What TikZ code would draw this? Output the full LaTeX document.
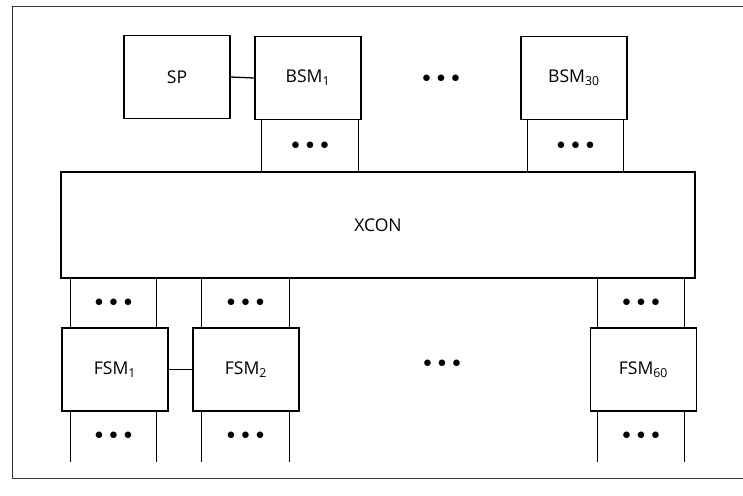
\documentclass[tikz,border=0pt]{standalone}
\usepackage{fontspec}
\setmainfont{Open Sans}
\usetikzlibrary{positioning}
\tikzset{
  unit/.style={draw, line width=0.9pt, minimum width=106\pxu, minimum height=83\pxu, inner sep=0pt, font=\fontsize{12.5}{14}\selectfont},
  chan/.style={minimum width=#1, minimum height=51\pxu, inner sep=0pt, font=\fontsize{12.5}{14}\selectfont},
  dotsn/.style={inner sep=0pt, font=\fontsize{12.5}{14}\selectfont},
  wire/.style={line width=0.9pt},
  frame/.style={line width=0.6pt, draw=black!80},
}
\newlength{\pxu}
\setlength{\pxu}{0.025cm}
\newcommand{\dotrow}{$\bullet\mkern2.5mu\bullet\mkern2.5mu\bullet$}
\begin{document}
\begin{tikzpicture}[x=0.025cm, y=-0.025cm]
  \useasboundingbox (0,0) rectangle (743,495);
  \draw[frame] (760,6) -- (12,6) -- (12,478) -- (760,478);
  % back side
  \node[unit] (sp) at (177,77) {SP};
  \node[unit] (bsma) at (308,78) {BSM\textsubscript{1}};
  \node[unit] (bsmz) at (574,78) {BSM\textsubscript{30}};
  \node[dotsn] (bdots) at (441,79) {\dotrow};
  \node[chan=96\pxu] (cba) at (310,145.5) {\dotrow};
  \node[chan=95\pxu] (cbz) at (575.5,145.5) {\dotrow};
  % switch
  \node[draw, line width=0.9pt, minimum width=634\pxu, minimum height=106\pxu, font=\fontsize{12.5}{14}\selectfont] (xcon) at (378,225) {XCON};
  % front side
  \node[unit] (fsma) at (115,369.5) {FSM\textsubscript{1}};
  \node[unit] (fsmb) at (246,369.5) {FSM\textsubscript{2}};
  \node[unit] (fsmz) at (643.5,369.5) {FSM\textsubscript{60}};
  \node[dotsn] (fdots) at (442,364) {\dotrow};
  \node[chan=85\pxu] (cfa) at (113.5,303) {\dotrow};
  \node[chan=87\pxu] (cfb) at (245.5,303) {\dotrow};
  \node[chan=86\pxu] (cfz) at (641,303) {\dotrow};
  \node[chan=85\pxu] (cga) at (113.5,436) {\dotrow};
  \node[chan=87\pxu] (cgb) at (245.5,436) {\dotrow};
  \node[chan=86\pxu] (cgz) at (641,436) {\dotrow};
  \foreach \c in {cba,cbz,cfa,cfb,cfz,cga,cgb,cgz}
    \draw[wire] (\c.north west) -- (\c.south west) (\c.north east) -- (\c.south east);
  \draw[wire] (sp.east) -- (bsma.west);
  \draw[wire] (fsma.east) -- (fsmb.west);
\end{tikzpicture}
\end{document}
